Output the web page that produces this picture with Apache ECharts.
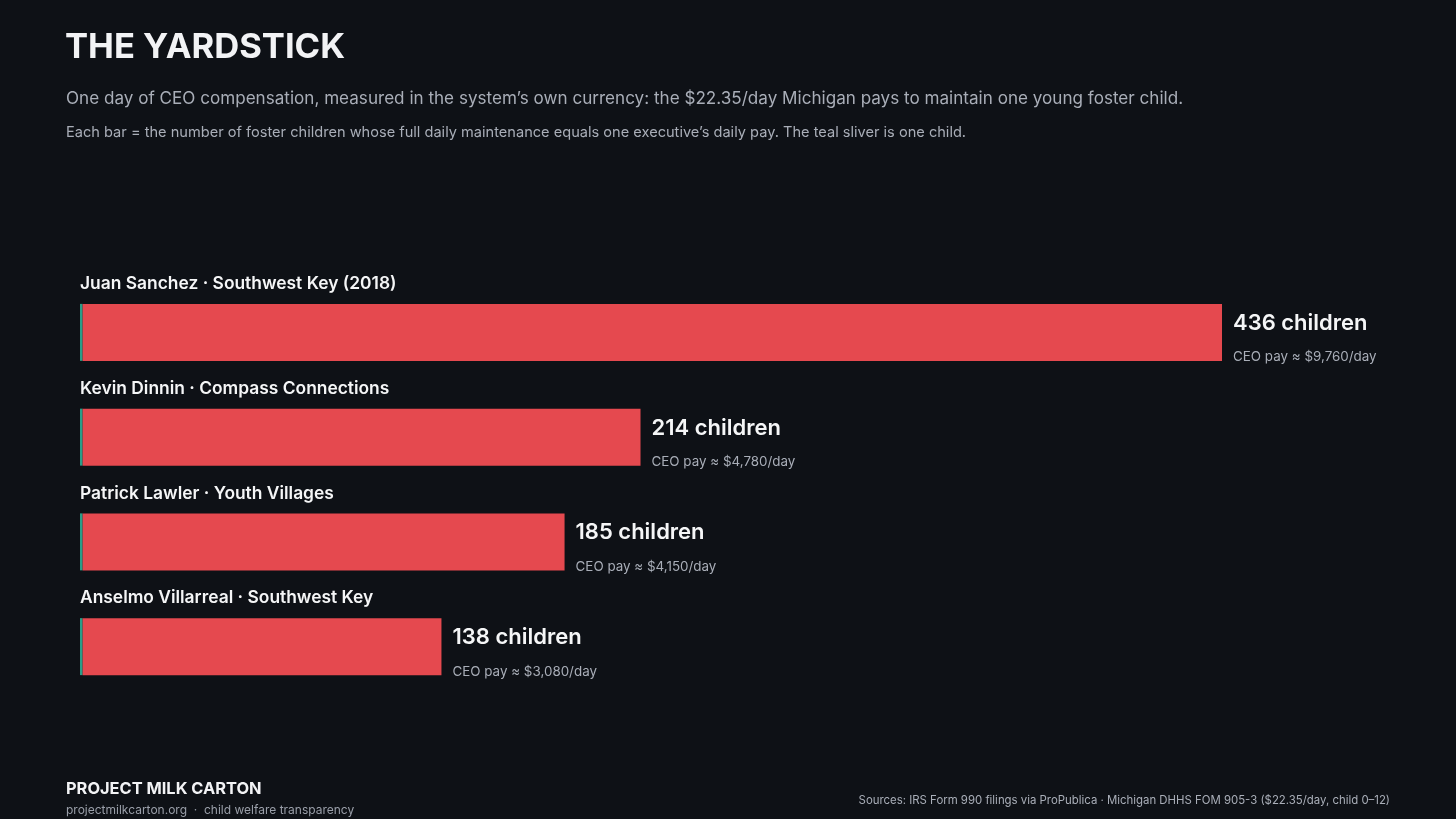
<!DOCTYPE html>
<html>
<head>
<meta charset="utf-8">
<title>The Yardstick</title>
<script src="https://cdn.jsdelivr.net/npm/echarts@6/dist/echarts.min.js"></script>
<style>
  html, body { margin: 0; padding: 0; background: #0e1116; }
  #chart { width: 1456px; height: 819px; }
</style>
</head>
<body>
<div id="chart"></div>
<script>
// data
var ceos = [
  'Juan Sanchez · Southwest Key (2018)',
  'Kevin Dinnin · Compass Connections',
  'Patrick Lawler · Youth Villages',
  'Anselmo Villarreal · Southwest Key'
];
var children = [436, 214, 185, 138];
var payPerDay = [9760, 4780, 4150, 3080];

var FONT = 'Inter, "Noto Sans", sans-serif';

// one teal child + the rest in red
var oneChild = children.map(function () { return 1; });
var restChildren = children.map(function (v) { return v - 1; });

function fmtMoney(v) {
  return '$' + v.toLocaleString('en-US');
}

var chart = echarts.init(document.getElementById('chart'));

var option = {
  backgroundColor: '#0e1116',
  animation: false,
  textStyle: { fontFamily: FONT },
  title: [
    {
      text: 'THE YARDSTICK',
      left: 60, top: 25,
      textStyle: { color: '#f2f3f5', fontSize: 34.6, fontWeight: 700, fontFamily: FONT }
    },
    {
      text: 'One day of CEO compensation, measured in the system\u2019s own currency: the $22.35/day Michigan pays to maintain one young foster child.',
      left: 61, top: 85,
      textStyle: { color: '#a9aeb8', fontSize: 17.1, fontWeight: 400, fontFamily: FONT }
    },
    {
      text: 'Each bar = the number of foster children whose full daily maintenance equals one executive\u2019s daily pay. The teal sliver is one child.',
      left: 61, top: 120,
      textStyle: { color: '#a9aeb8', fontSize: 14.6, fontWeight: 400, fontFamily: FONT }
    },
    {
      text: 'PROJECT MILK CARTON',
      left: 61, top: 776,
      textStyle: { color: '#f2f3f5', fontSize: 16.4, fontWeight: 700, fontFamily: FONT }
    },
    {
      text: 'projectmilkcarton.org  \u00b7  child welfare transparency',
      left: 61, top: 799,
      textStyle: { color: '#9a9fa9', fontSize: 12, fontWeight: 400, fontFamily: FONT }
    },
    {
      text: 'Sources: IRS Form 990 filings via ProPublica \u00b7 Michigan DHHS FOM 905-3 ($22.35/day, child 0\u201312)',
      right: 61, top: 790,
      textStyle: { color: '#a9aeb8', fontSize: 11.4, fontWeight: 400, fontFamily: FONT }
    }
  ],
  grid: {
    left: 80,
    top: 280,
    width: 1142,
    height: 419
  },
  xAxis: {
    type: 'value',
    min: 0,
    max: children[0],
    show: false
  },
  yAxis: {
    type: 'category',
    data: ceos,
    inverse: true,
    show: false
  },
  series: [
    {
      name: 'One child',
      type: 'bar',
      stack: 'kids',
      data: oneChild,
      barWidth: 57,
      itemStyle: { color: '#2a9d87' },
      label: {
        show: true,
        position: [0, -20],
        verticalAlign: 'middle',
        align: 'left',
        formatter: function (p) { return ceos[p.dataIndex]; },
        color: '#f5f6f7',
        fontSize: 17.4,
        fontWeight: 600,
        fontFamily: FONT
      }
    },
    {
      name: 'Children',
      type: 'bar',
      stack: 'kids',
      data: restChildren,
      barWidth: 57,
      itemStyle: { color: '#e5494f' },
      label: {
        show: true,
        position: 'right',
        distance: 11,
        offset: [0, 8],
        formatter: function (p) {
          var i = p.dataIndex;
          return '{big|' + children[i] + ' children}\n{small|CEO pay \u2248 ' + fmtMoney(payPerDay[i]) + '/day}';
        },
        rich: {
          big: {
            color: '#f5f6f7', fontSize: 22, fontWeight: 600, fontFamily: FONT,
            lineHeight: 34
          },
          small: {
            color: '#a9aeb8', fontSize: 13.4, fontWeight: 400, fontFamily: FONT,
            lineHeight: 34
          }
        }
      }
    }
  ]
};

chart.setOption(option);
</script>
</body>
</html>
